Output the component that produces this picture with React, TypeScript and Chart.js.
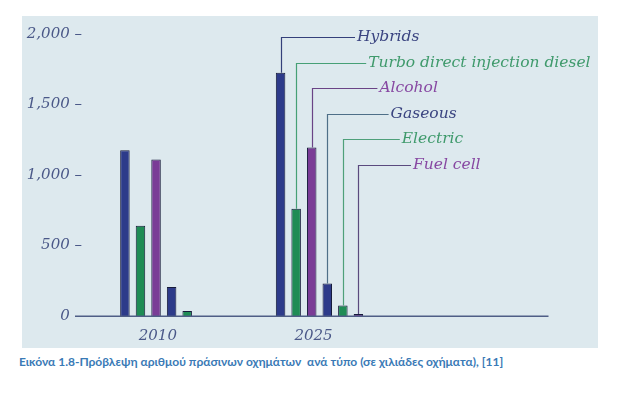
import React, { useEffect, useRef } from "react";
import { Chart, registerables } from "chart.js";

Chart.register(...registerables);

const categories = ["2010", "2025", ""];
const seriesNames = [
  "Hybrids",
  "Turbo direct injection diesel",
  "Alcohol",
  "Gaseous",
  "Electric",
  "Fuel cell",
];
const hybrids = [1175, 1725, null];
const turboDiesel = [640, 760, null];
const alcohol = [1110, 1195, null];
const gaseous = [205, 230, null];
const electric = [35, 75, null];
const fuelCell = [null, 15, null];
const yTicks = [0, 500, 1000, 1500, 2000];

const barColors = ["#2d3b8a", "#1f8c55", "#7a3c96", "#2d3b8a", "#1f8c55", "#7a3c96"];
const labelColors = ["#3a4480", "#3f9a6c", "#8748a2", "#3a4480", "#3f9a6c", "#8748a2"];
const lineColors = ["#34407a", "#46a076", "#6a4486", "#4e6f88", "#4ea07a", "#5a4a7e"];
const FONT = "'DejaVu Serif', serif";

const leaderPlugin = {
  id: "leaders",
  afterDatasetsDraw(chart: any) {
    const { ctx, chartArea } = chart;
    ctx.save();
    ctx.strokeStyle = "#4f5e86";
    ctx.lineWidth = 1.5;
    ctx.beginPath();
    const by = chartArea.bottom + 0.25;
    ctx.moveTo(chartArea.left - 11, by);
    ctx.lineTo(chartArea.right - 4.5, by);
    ctx.stroke();

    chart.data.datasets.forEach((ds: any, i: number) => {
      const el = chart.getDatasetMeta(i).data[1];
      if (!el) return;
      const x = Math.round(el.x) + 0.5;
      const rowY = Math.round(chartArea.top + 2.5 + i * 25.4 + (i > 0 ? 1 : 0)) + 0.5;
      const labelX = chartArea.left + 270 + i * 11.2;
      ctx.strokeStyle = lineColors[i];
      ctx.lineWidth = 1.2;
      ctx.beginPath();
      ctx.moveTo(x, el.y);
      ctx.lineTo(x, rowY);
      ctx.lineTo(labelX - 1, rowY);
      ctx.stroke();
      ctx.fillStyle = labelColors[i];
      ctx.font = `italic 15.5px ${FONT}`;
      ctx.textBaseline = "middle";
      ctx.textAlign = "left";
      ctx.fillText(ds.label, labelX + 1, rowY - 1);
    });
    ctx.restore();
  },
};

export default function App() {
  const ref = useRef<HTMLCanvasElement | null>(null);
  useEffect(() => {
    if (!ref.current) return;
    const series = [hybrids, turboDiesel, alcohol, gaseous, electric, fuelCell];
    const chart = new Chart(ref.current, {
      type: "bar",
      data: {
        labels: categories,
        datasets: series.map((d, i) => ({
          label: seriesNames[i],
          data: d,
          backgroundColor: barColors[i],
          borderColor: "#161b3a",
          borderWidth: 1,
          borderSkipped: "bottom",
          categoryPercentage: 0.6,
          barPercentage: 0.61,
        })),
      },
      options: {
        animation: false,
        responsive: false,
        maintainAspectRatio: false,
        layout: { padding: { top: 18, right: 45, left: 0, bottom: 0 } },
        plugins: {
          legend: { display: false },
          tooltip: { enabled: false },
        },
        scales: {
          x: {
            grid: { display: false, drawTicks: false },
            border: { display: false },
            ticks: {
              color: "#4a5888",
              font: { family: FONT, style: "italic", size: 15 },
              padding: 11,
              labelOffset: -6,
            },
            afterFit: (s: any) => {
              s.height = 32;
            },
          },
          y: {
            min: 0,
            max: 2000,
            grid: { display: false, drawTicks: false },
            border: { display: false },
            afterBuildTicks: (s: any) => {
              s.ticks = yTicks.map((v) => ({ value: v }));
            },
            ticks: {
              color: "#4a5888",
              font: { family: FONT, style: "italic", size: 15 },
              padding: 4,
              callback: (v: any) => Number(v).toLocaleString("en-US") + " \u2013",
            },
            afterFit: (s: any) => {
              s.width = 64;
            },
          },
        },
      },
      plugins: [leaderPlugin],
    });
    return () => chart.destroy();
  }, []);

  return (
    <div style={{ position: "absolute", left: 0, top: 0, width: 619, height: 399, background: "#ffffff" }}>
      <div style={{ position: "absolute", left: 22, top: 16, width: 576, height: 332, background: "#dde9ee" }}>
        <canvas ref={ref} width={576} height={332} style={{ display: "block" }} />
      </div>
      <div
        style={{
          position: "absolute",
          left: 19,
          top: 354,
          fontFamily: "Lato, 'Open Sans', sans-serif",
          fontWeight: 700,
          fontSize: 12,
          color: "#3a7ab6",
          whiteSpace: "pre",
        }}
      >
        {"Εικόνα 1.8-Πρόβλεψη αριθμού πράσινων οχημάτων  ανά τύπο (σε χιλιάδες οχήματα), [11]"}
      </div>
    </div>
  );
}
